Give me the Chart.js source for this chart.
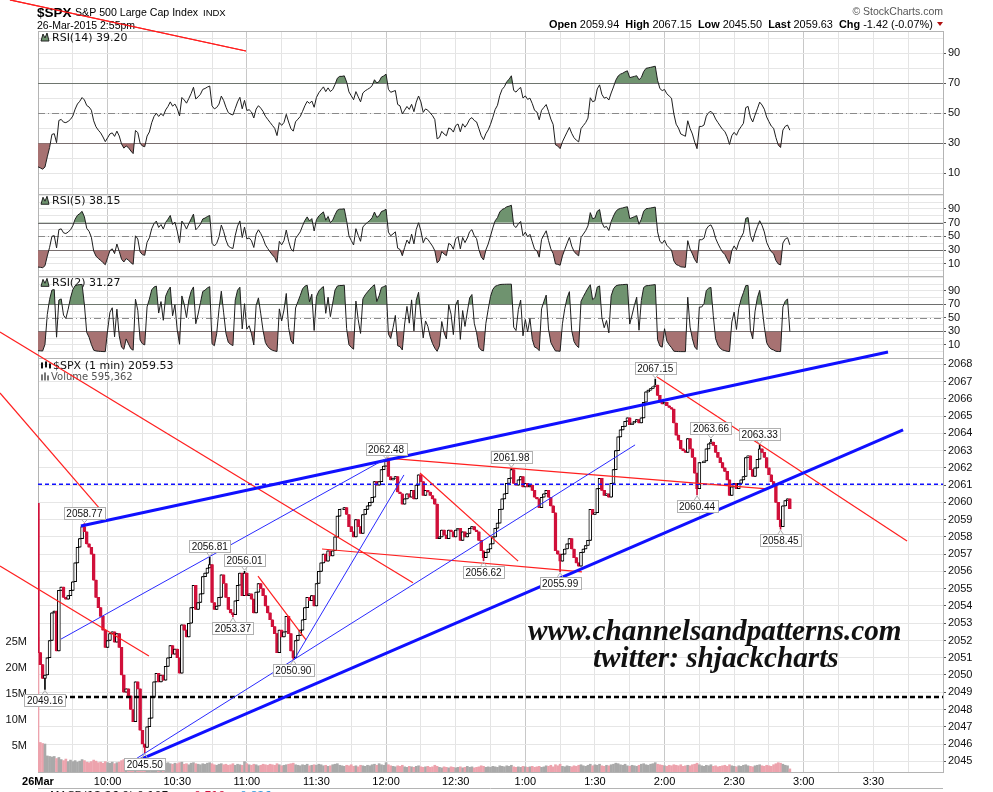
<!DOCTYPE html>
<html>
<head>
<meta charset="utf-8">
<title>$SPX 1 min</title>
<script src="https://cdn.jsdelivr.net/npm/chart.js@4.4.1/dist/chart.umd.min.js"></script>
<style>
html, body { margin: 0; padding: 0; background: #fff; }
#wrap { width: 993px; height: 792px; }
</style>
</head>
<body>
<div id="wrap"><canvas id="chart" width="993" height="792"></canvas></div>
<script>
// ---- data (x = minutes since 9:30) ----
const prevClose = 2061.05;
const firstOpen = 2059.94;

// 1-minute closes, 9:30 .. 2:54
const closes = [
  2051.3, 2050.6, 2049.8, 2050.0, 2051.0, 2052.0, 2053.6, 2053.7, 2051.4, 2054.9,
  2055.1, 2054.5, 2054.4, 2054.6, 2054.9, 2055.4, 2056.5, 2057.4, 2057.9, 2058.6,
  2058.3, 2057.6, 2057.4, 2057.0, 2055.5, 2054.5, 2053.9, 2053.4, 2052.6, 2051.6,
  2052.0, 2052.4, 2052.5, 2051.9, 2052.4, 2051.6, 2050.0, 2049.0, 2049.2, 2048.8,
  2048.0, 2047.3, 2049.6, 2049.2, 2046.8, 2046.0, 2045.8, 2047.0, 2047.5, 2048.7,
  2049.6, 2050.1, 2049.6, 2050.0, 2049.7, 2050.5, 2051.0, 2051.7, 2051.2, 2051.5,
  2051.0, 2050.1, 2052.9, 2052.6, 2052.2, 2053.0, 2053.9, 2055.2, 2053.8, 2054.2,
  2054.7, 2055.7, 2055.9, 2056.2, 2056.4, 2054.2, 2053.8, 2054.0, 2054.5, 2055.8,
  2055.3, 2054.5, 2053.8, 2053.6, 2053.5, 2054.3, 2055.2, 2055.9, 2054.6, 2055.9,
  2054.6, 2054.7, 2054.4, 2053.6, 2054.8, 2055.3, 2055.0, 2054.6, 2054.0, 2053.6,
  2053.2, 2052.8, 2052.4, 2051.3, 2052.6, 2052.2, 2052.5, 2053.4, 2052.4, 2051.4,
  2051.0, 2052.0, 2052.3, 2052.6, 2053.2, 2053.9, 2054.5, 2054.3, 2054.6, 2054.0,
  2055.3, 2056.0, 2056.5, 2057.0, 2056.6, 2057.2, 2056.9, 2057.2, 2058.0, 2059.2,
  2059.6, 2059.6, 2059.7, 2059.3, 2058.6, 2058.3, 2058.0, 2059.0, 2058.6, 2058.2,
  2059.3, 2059.6, 2059.8, 2060.0, 2060.3, 2061.2, 2061.0, 2061.2, 2061.9, 2062.1,
  2062.4, 2061.5, 2061.3, 2061.4, 2061.5, 2060.6, 2060.5, 2059.9, 2060.2, 2060.5,
  2060.3, 2060.7, 2060.2, 2061.0, 2061.6, 2061.2, 2060.4, 2060.7, 2060.6, 2060.4,
  2060.2, 2059.9, 2057.9, 2058.0, 2058.4, 2058.1, 2057.9, 2058.4, 2058.3, 2058.0,
  2058.4, 2058.5, 2057.8, 2058.3, 2058.0, 2058.2, 2058.5, 2058.6, 2058.4, 2058.3,
  2057.8, 2057.2, 2056.8, 2057.1, 2057.3, 2057.6, 2058.0, 2058.5, 2058.8, 2059.6,
  2060.2, 2060.5, 2061.1, 2061.4, 2061.9, 2061.1, 2061.0, 2061.3, 2061.5, 2060.9,
  2061.1, 2060.9, 2061.0, 2060.7, 2060.3, 2060.2, 2059.7, 2060.3, 2060.5, 2060.7,
  2060.3, 2059.8, 2059.4, 2057.2, 2057.0, 2056.6, 2057.0, 2057.3, 2057.6, 2057.9,
  2057.3, 2056.8, 2056.5, 2056.3, 2057.1, 2057.3, 2057.5, 2057.8, 2059.6, 2059.3,
  2059.4, 2060.8, 2061.4, 2060.7, 2060.4, 2060.5, 2060.3, 2061.1, 2061.9, 2063.0,
  2063.8, 2064.2, 2064.4, 2064.7, 2064.9, 2064.5, 2064.6, 2064.7, 2064.8, 2064.6,
  2064.9, 2065.8, 2066.4, 2066.5, 2066.6, 2066.7, 2066.8, 2066.2, 2065.8, 2065.7,
  2065.8, 2065.6, 2065.5, 2065.4, 2064.6, 2063.9, 2063.6, 2063.1, 2063.0, 2062.9,
  2063.7, 2063.1, 2062.6, 2061.7, 2060.8, 2062.3, 2062.3, 2062.4, 2063.1, 2063.4,
  2063.5, 2063.3, 2062.9, 2062.6, 2062.3, 2062.0, 2061.8, 2061.3, 2060.4, 2060.9,
  2061.1, 2060.8, 2061.1, 2061.3, 2061.5, 2062.6, 2062.7, 2061.9, 2061.5, 2062.0,
  2062.5, 2063.1, 2062.9, 2062.6, 2062.0, 2061.6, 2061.2, 2061.0, 2060.0, 2059.0,
  2058.6, 2059.8, 2060.1, 2060.2, 2059.63
];

// volume per minute, millions
const volumes = [
  26,
  5.7, 5.5, 5.4, 3.1, 3.0, 2.9, 3.0, 2.6, 2.8,
  2.4, 2.2, 2.5, 2.0, 2.3, 2.0, 2.2, 1.9, 2.1, 2.4,
  2.2, 1.9, 1.8, 2.0, 2.3, 2.1, 1.8, 1.9, 1.7, 2.0,
  1.8, 1.7, 1.9, 1.6, 1.8, 1.9, 2.2, 2.4, 1.9, 2.0,
  2.1, 2.3, 2.0, 1.8, 2.2, 2.5, 2.6, 2.1, 1.9, 2.0,
  1.8, 1.7, 1.6, 1.9, 1.5, 1.7, 1.8, 1.6, 1.5, 1.7,
  1.6, 1.8, 1.9, 1.5, 1.6, 1.4, 1.7, 1.8, 1.6, 1.5,
  1.4, 1.6, 1.5, 1.7, 1.8, 1.6, 1.4, 1.3, 1.5, 1.6,
  1.4, 1.5, 1.3, 1.4, 1.6, 1.3, 1.5, 1.4, 1.3, 2.0,
  1.6, 1.4, 1.3, 1.5, 1.4, 1.2, 1.3, 1.5, 1.4, 1.3,
  1.5, 1.4, 1.3, 1.6, 1.4, 1.2, 1.3, 1.4, 1.5, 1.6,
  1.7, 1.4, 1.3, 1.2, 1.4, 1.3, 1.5, 1.2, 1.3, 1.4,
  1.3, 1.5, 1.4, 1.2, 1.3, 1.1, 1.2, 1.4, 1.5, 1.6,
  1.3, 1.2, 1.1, 1.3, 1.2, 1.4, 1.1, 1.2, 1.0, 1.3,
  1.2, 1.1, 1.3, 1.2, 1.4, 1.5, 1.3, 1.6, 1.4, 1.3,
  1.8, 1.4, 1.2, 1.1, 1.0, 1.2, 1.1, 1.3, 1.0, 0.9,
  1.1, 1.0, 0.9, 1.1, 1.2, 1.0, 0.9, 1.0, 1.1, 0.9,
  1.0, 1.3, 1.1, 0.9, 0.8, 1.0, 0.9, 0.8, 1.0, 0.9,
  0.8, 0.9, 1.0, 0.8, 0.9, 1.1, 0.9, 1.0, 0.8, 0.9,
  1.0, 1.2, 1.1, 0.9, 1.0, 0.9, 1.1, 1.0, 0.9, 1.2,
  1.1, 1.0, 1.2, 1.1, 1.3, 1.0, 0.9, 1.0, 0.9, 1.1,
  1.0, 0.9, 1.0, 1.1, 0.9, 1.0, 1.1, 0.9, 1.0, 1.2,
  1.1, 1.3, 1.0, 1.4, 1.2, 1.5, 1.1, 1.0, 1.2, 1.1,
  1.0, 1.2, 1.1, 1.3, 1.4, 1.2, 1.1, 1.3, 1.5, 1.2,
  1.4, 1.3, 1.5, 1.2, 1.1, 1.3, 1.2, 1.4, 1.5, 1.7,
  1.6, 1.4, 1.3, 1.5, 1.2, 1.1, 1.3, 1.2, 1.1, 1.3,
  1.5, 1.6, 1.4, 1.3, 1.5, 1.6, 1.8, 1.5, 1.4, 1.3,
  1.2, 1.1, 1.3, 1.2, 1.4, 1.3, 1.2, 1.4, 1.1, 1.2,
  1.3, 1.2, 1.4, 1.5, 1.7, 1.4, 1.2, 1.1, 1.3, 1.2,
  1.4, 1.1, 1.2, 1.0, 1.1, 1.2, 1.3, 1.1, 1.4, 1.2,
  1.1, 1.0, 1.2, 1.1, 1.3, 1.4, 1.2, 1.1, 1.0, 1.2,
  1.3, 1.4, 1.2, 1.1, 1.3, 1.2, 1.1, 1.4, 1.6, 1.8,
  1.7, 1.5, 1.3, 1.2, 0.6
];

// labelled highs / lows: [minute, price, side]
const extremes = [
  [20, 2058.77, 'above'], [74, 2056.81, 'above'], [89, 2056.01, 'above'],
  [84, 2053.37, 'below'], [110, 2050.90, 'below'], [46, 2045.50, 'below'],
  [3, 2049.16, 'below'], [150, 2062.48, 'above'], [204, 2061.98, 'above'],
  [192, 2056.62, 'below'], [225, 2055.99, 'below'], [266, 2067.15, 'above'],
  [290, 2063.66, 'above'], [311, 2063.33, 'above'], [284, 2060.44, 'below'],
  [320, 2058.45, 'below']
];

// drawn trend lines: [kind, minute1, price1, minute2, price2]
const trendLines = [
  ['red', -12.1, 2089.11, 89.6, 2086.15],
  ['red', -16.4, 2069.87, 161.6, 2055.34],
  ['red', -16.4, 2066.34, 26.7, 2059.62],
  ['red', -16.4, 2056.31, 47.8, 2051.10],
  ['red', 94.8, 2055.73, 115.5, 2052.03],
  ['red', 164.6, 2061.70, 206.9, 2056.60],
  ['red', 122.4, 2057.30, 234.4, 2055.97],
  ['red', 150.4, 2062.57, 314.2, 2060.78],
  ['red', 266.8, 2067.26, 374.5, 2057.76],
  ['blueThick', 18.5, 2058.63, 366.3, 2068.71],
  ['blueThick', 42.7, 2045.02, 372.8, 2064.20],
  ['blueThin', 42.2, 2045.14, 257.3, 2063.33],
  ['blueThin', 9.9, 2052.08, 150.4, 2062.57],
  ['blueThin', 110.3, 2050.87, 157.7, 2061.59]
];
const levelLines = [['blueDash', 2061.05], ['blackDash', 2048.72]];

const timeLabels = ['26Mar', '10:00', '10:30', '11:00', '11:30', '12:00', '12:30',
                    '1:00', '1:30', '2:00', '2:30', '3:00', '3:30'];
const rsiLabels = [10, 30, 50, 70, 90];
const volLabels = [5, 10, 15, 20, 25];
const rsiSeed = 0.15; // average 1-min move carried over from the prior session

// ---- derived series ----
const opens = closes.map((c, i) => i === 0 ? firstOpen : closes[i - 1]);
const highs = closes.map((c, i) => Math.max(c, opens[i]));
const lows = closes.map((c, i) => Math.min(c, opens[i]));
extremes.forEach(([m, p, side]) => {
  if (side === 'above') highs[m] = Math.max(highs[m], p);
  else lows[m] = Math.min(lows[m], p);
});
const isUp = closes.map((c, i) => c >= opens[i]);

function wilderRsi(values, n) {
  let avgGain = rsiSeed, avgLoss = rsiSeed, last = prevClose;
  return values.map((c, i) => {
    const ch = c - last;
    last = c;
    avgGain = (avgGain * (n - 1) + Math.max(ch, 0)) / n;
    avgLoss = (avgLoss * (n - 1) + Math.max(-ch, 0)) / n;
    return { x: i, y: 100 - 100 / (1 + avgGain / avgLoss) };
  });
}

const RED = '#d0103a';
const GREEN_FILL = '#6f936f';
const RED_FILL = '#a77272';
const CLEAR = 'rgba(0,0,0,0)';
const FONT = 'Liberation Sans';

function rsiSets(n, axis) {
  const pts = wilderRsi(closes, n);
  return [
    { type: 'line', data: pts, yAxisID: axis, borderColor: '#1e1e1e', borderWidth: 1,
      pointRadius: 0, tension: 0, order: 2,
      fill: { target: { value: 70 }, above: GREEN_FILL, below: CLEAR } },
    { type: 'line', data: pts, yAxisID: axis, borderColor: CLEAR, borderWidth: 0,
      pointRadius: 0, tension: 0, order: 3,
      fill: { target: { value: 30 }, above: CLEAR, below: RED_FILL } }
  ];
}

const wickData = closes.map((c, i) => ({ x: i, y: [lows[i], highs[i]] }));
const bodyData = closes.map((c, i) => {
  const o = opens[i];
  return { x: i, y: Math.abs(c - o) < 0.03 ? [o - 0.02, o + 0.02] : [o, c] };
});
const volData = volumes.map((v, i) => ({ x: i, y: v * 1e6 }));

// ---- scales ----
function rsiAxis(weight, min, max) {
  return {
    type: 'linear', position: 'right', stack: 'panels', stackWeight: weight,
    min: min, max: max,
    afterFit: s => { s.width = 50; },
    ticks: {
      stepSize: 10, includeBounds: false, autoSkip: false, padding: 2,
      color: '#111', font: { family: FONT, size: 11 },
      callback: v => rsiLabels.includes(v) ? String(v) : ''
    },
    grid: {
      color: '#e6e6e6', tickLength: 3,
      tickColor: c => rsiLabels.includes(c.tick && c.tick.value) ? '#555' : CLEAR
    },
    border: { color: '#b4b4b4' }
  };
}

const panelTitles = [
  ['rsi14', 'RSI(14) 39.20'],
  ['rsi5', 'RSI(5) 38.15'],
  ['rsi2', 'RSI(2) 31.27']
];

function drawTag(ctx, x, y, text, side) {
  ctx.font = '10px ' + FONT;
  const w = Math.round(ctx.measureText(text).width) + 5, h = 12;
  const bx = Math.round(x - w / 2) + 0.5;
  const by = side === 'above' ? Math.round(y - 5 - h) + 0.5 : Math.round(y + 5) + 0.5;
  ctx.strokeStyle = '#b0b0b0';
  ctx.lineWidth = 1;
  ctx.beginPath();
  if (side === 'above') {
    ctx.moveTo(x - 3, by + h); ctx.lineTo(x, y - 1); ctx.lineTo(x + 3, by + h);
  } else {
    ctx.moveTo(x - 3, by); ctx.lineTo(x, y + 1); ctx.lineTo(x + 3, by);
  }
  ctx.stroke();
  ctx.fillStyle = '#fff';
  ctx.fillRect(bx, by, w, h);
  ctx.strokeRect(bx, by, w, h);
  ctx.fillStyle = '#111';
  ctx.textAlign = 'center';
  ctx.textBaseline = 'middle';
  ctx.fillText(text, x, by + h / 2 + 0.5);
}

function fitFont(ctx, text, style, family, width) {
  ctx.font = style + ' 24px ' + family;
  const size = 24 * width / ctx.measureText(text).width;
  return style + ' ' + size.toFixed(1) + 'px ' + family;
}

const lineStyles = {
  red: { color: '#ff1f1f', width: 1.2, dash: [] },
  blueThick: { color: '#1010ff', width: 3, dash: [] },
  blueThin: { color: '#2a2aff', width: 1, dash: [] },
  blueDash: { color: '#1010ff', width: 1.5, dash: [4, 3] },
  blackDash: { color: '#000', width: 2.5, dash: [5, 3] }
};

const decorPlugin = {
  id: 'decor',
  beforeDatasetsDraw(chart) {
    const ctx = chart.ctx, a = chart.chartArea;
    ctx.save();
    // RSI reference lines
    ['rsi14', 'rsi5', 'rsi2'].forEach(id => {
      const s = chart.scales[id];
      [30, 70].forEach(v => {
        const y = Math.round(s.getPixelForValue(v)) + 0.5;
        ctx.strokeStyle = '#6e6e6e'; ctx.lineWidth = 1; ctx.setLineDash([]);
        ctx.beginPath(); ctx.moveTo(a.left, y); ctx.lineTo(a.right, y); ctx.stroke();
      });
      const y5 = Math.round(s.getPixelForValue(50)) + 0.5;
      ctx.strokeStyle = '#8a8a8a'; ctx.setLineDash([7, 3, 1, 3]);
      ctx.beginPath(); ctx.moveTo(a.left, y5); ctx.lineTo(a.right, y5); ctx.stroke();
    });
    ctx.setLineDash([]);
    // panel separators
    ctx.strokeStyle = '#b4b4b4';
    ['rsi14', 'rsi5', 'rsi2', 'price'].forEach(id => {
      const y = Math.round(chart.scales[id].top) + 0.5;
      ctx.beginPath(); ctx.moveTo(a.left, y); ctx.lineTo(a.right, y); ctx.stroke();
    });
    // panel titles
    panelTitles.forEach(([id, text]) => {
      const top = chart.scales[id].top;
      ctx.fillStyle = GREEN_FILL; ctx.strokeStyle = '#222';
      ctx.beginPath();
      ctx.moveTo(41, top + 10); ctx.lineTo(43, top + 3); ctx.lineTo(45, top + 7);
      ctx.lineTo(47, top + 2); ctx.lineTo(49, top + 10); ctx.closePath();
      ctx.fill(); ctx.stroke();
      ctx.fillStyle = '#111';
      ctx.font = '11px DejaVu Sans';
      ctx.textAlign = 'left'; ctx.textBaseline = 'alphabetic';
      ctx.fillText(text, 52, top + 10);
    });
    const pt = chart.scales.price.top;
    ctx.fillStyle = '#111'; ctx.strokeStyle = '#111';
    ctx.fillRect(41, pt + 4, 2, 6); ctx.fillRect(45, pt + 3, 2, 6); ctx.fillRect(49, pt + 5, 2, 5);
    ctx.font = '11px DejaVu Sans';
    ctx.fillText('$SPX (1 min) 2059.53', 53, pt + 11);
    ctx.fillStyle = '#777';
    ctx.fillRect(41, pt + 16, 2, 6); ctx.fillRect(44, pt + 14, 2, 8); ctx.fillRect(47, pt + 17, 2, 5);
    ctx.font = '10px DejaVu Sans';
    ctx.fillStyle = '#555';
    ctx.fillText('Volume 595,362', 51, pt + 22);
    ctx.restore();
  },
  afterDatasetsDraw(chart) {
    const ctx = chart.ctx, a = chart.chartArea;
    const xs = chart.scales.x, ps = chart.scales.price;
    ctx.save();
    // watermark
    ctx.fillStyle = '#111';
    ctx.textAlign = 'left'; ctx.textBaseline = 'alphabetic';
    let t = 'www.channelsandpatterns.com';
    ctx.font = fitFont(ctx, t, 'italic bold', 'Liberation Serif', 374);
    ctx.fillText(t, 528, 640);
    t = 'twitter: shjackcharts';
    ctx.font = fitFont(ctx, t, 'italic bold', 'Liberation Serif', 246);
    ctx.fillText(t, 593, 667);
    // horizontal levels
    levelLines.forEach(([kind, p]) => {
      const st = lineStyles[kind];
      const y = ps.getPixelForValue(p);
      ctx.strokeStyle = st.color; ctx.lineWidth = st.width; ctx.setLineDash(st.dash);
      ctx.beginPath(); ctx.moveTo(a.left, y); ctx.lineTo(a.right, y); ctx.stroke();
    });
    // trend lines
    trendLines.forEach(([kind, m1, p1, m2, p2]) => {
      const st = lineStyles[kind];
      ctx.strokeStyle = st.color; ctx.lineWidth = st.width; ctx.setLineDash(st.dash);
      ctx.beginPath();
      ctx.moveTo(xs.getPixelForValue(m1), ps.getPixelForValue(p1));
      ctx.lineTo(xs.getPixelForValue(m2), ps.getPixelForValue(p2));
      ctx.stroke();
    });
    ctx.setLineDash([]);
    // price tags
    extremes.forEach(([m, p, side]) => {
      drawTag(ctx, xs.getPixelForValue(m), ps.getPixelForValue(p), p.toFixed(2), side);
    });
    ctx.restore();
  },
  afterDraw(chart) {
    const ctx = chart.ctx, a = chart.chartArea;
    ctx.save();
    ctx.textBaseline = 'alphabetic';
    ctx.textAlign = 'left';
    ctx.fillStyle = '#000';
    ctx.font = 'bold 13.5px ' + FONT;
    ctx.fillText('$SPX', 37, 17);
    ctx.font = fitFont(ctx, 'S&P 500 Large Cap Index', '', FONT, 123);
    ctx.fillText('S&P 500 Large Cap Index', 75, 16);
    ctx.font = '9.5px ' + FONT;
    ctx.fillText('INDX', 203, 16);
    ctx.font = fitFont(ctx, '26-Mar-2015 2:55pm', '', FONT, 98);
    ctx.fillText('26-Mar-2015 2:55pm', 37, 29);

    ctx.textAlign = 'right';
    ctx.fillStyle = '#555';
    ctx.font = '10.5px ' + FONT;
    ctx.fillText('\u00A9 StockCharts.com', 943, 15);

    // quote line, right aligned
    const parts = [
      ['bold', 'Open'], ['', ' 2059.94  '], ['bold', 'High'], ['', ' 2067.15  '],
      ['bold', 'Low'], ['', ' 2045.50  '], ['bold', 'Last'], ['', ' 2059.63  '],
      ['bold', 'Chg'], ['', ' -1.42 (-0.07%)']
    ];
    let total = 0;
    parts.forEach(([w, s]) => { ctx.font = (w ? 'bold ' : '') + '11px ' + FONT; total += ctx.measureText(s).width; });
    const qs = (11 * 384 / total).toFixed(2);
    let x = 933 - 384;
    ctx.textAlign = 'left';
    ctx.fillStyle = '#000';
    parts.forEach(([w, s]) => {
      ctx.font = (w ? 'bold ' : '') + qs + 'px ' + FONT;
      ctx.fillText(s, x, 28);
      x += ctx.measureText(s).width;
    });
    ctx.fillStyle = '#b01010';
    ctx.beginPath(); ctx.moveTo(937, 22); ctx.lineTo(943, 22); ctx.lineTo(940, 26); ctx.closePath(); ctx.fill();

    // clipped lower panel strip
    ctx.strokeStyle = '#b4b4b4'; ctx.lineWidth = 1;
    ctx.beginPath(); ctx.moveTo(a.left, 788.5); ctx.lineTo(a.right, 788.5); ctx.stroke();
    ctx.font = '11px DejaVu Sans';
    ctx.fillStyle = '#111';
    ctx.fillText('MACD(12,26,9) 0.107,', 50, 799);
    ctx.fillStyle = RED; ctx.fillText('-0.719,', 190, 799);
    ctx.fillStyle = '#3399dd'; ctx.fillText('0.826', 240, 799);

    // top red line crosses the header
    const xs = chart.scales.x, ps = chart.scales.price;
    const [k, m1, p1, m2, p2] = trendLines[0];
    ctx.strokeStyle = lineStyles[k].color; ctx.lineWidth = lineStyles[k].width;
    ctx.beginPath();
    ctx.moveTo(xs.getPixelForValue(m1), ps.getPixelForValue(p1));
    ctx.lineTo(xs.getPixelForValue(m2), ps.getPixelForValue(p2));
    ctx.stroke();
    ctx.restore();
  }
};

new Chart(document.getElementById('chart'), {
  type: 'line',
  data: {
    datasets: [
      { type: 'bar', data: bodyData, yAxisID: 'price', grouped: false, barThickness: 3,
        borderWidth: 1, borderSkipped: false,
        backgroundColor: isUp.map(u => u ? '#fff' : RED),
        borderColor: isUp.map(u => u ? '#000' : RED), order: 0 },
      { type: 'bar', data: wickData, yAxisID: 'price', grouped: false, barThickness: 1,
        borderWidth: 0, backgroundColor: isUp.map(u => u ? '#000' : RED), order: 1 },
      ...rsiSets(14, 'rsi14'),
      ...rsiSets(5, 'rsi5'),
      ...rsiSets(2, 'rsi2'),
      { type: 'bar', data: volData, yAxisID: 'vol', grouped: false, barThickness: 2,
        borderWidth: 0, backgroundColor: isUp.map(u => u ? '#a9a9a9' : '#eda3ad'), order: 9 }
    ]
  },
  options: {
    responsive: false,
    animation: false,
    devicePixelRatio: 1,
    events: [],
    layout: { padding: { top: 31, left: 0, right: 0, bottom: 0 } },
    plugins: { legend: { display: false }, tooltip: { enabled: false } },
    scales: {
      x: {
        type: 'linear', min: 0, max: 390, offset: false,
        afterFit: s => { s.height = 20; },
        ticks: {
          stepSize: 15, autoSkip: false, maxRotation: 0, padding: 3, color: '#000',
          font: c => ({ family: FONT, size: 11, weight: c.tick && c.tick.value === 0 ? 'bold' : 'normal' }),
          callback: v => (v % 30 === 0 && v / 30 < timeLabels.length) ? timeLabels[v / 30] : ''
        },
        grid: {
          offset: false, drawTicks: false,
          color: c => (c.tick && (c.tick.value - 30) % 60 === 0) ? '#c8c8c8' : '#e4e4e4'
        },
        border: { color: '#b4b4b4' }
      },
      vol: {
        type: 'linear', position: 'left', min: 0, max: 143e6,
        afterFit: s => { s.width = 38; },
        afterBuildTicks: s => { s.ticks = volLabels.map(v => ({ value: v * 1e6 })); },
        ticks: { padding: 3, color: '#111', font: { family: FONT, size: 11 },
                 callback: v => (v / 1e6) + 'M' },
        grid: { display: false },
        border: { color: '#b4b4b4' }
      },
      rsi14: rsiAxis(163, -4, 104.9),
      rsi5: rsiAxis(82, -8, 111.4),
      rsi2: rsiAxis(82, -10, 111.6),
      price: {
        type: 'linear', position: 'right', stack: 'panels', stackWeight: 413,
        min: 2044.38, max: 2068.34,
        afterFit: s => { s.width = 50; },
        ticks: { stepSize: 1, includeBounds: false, autoSkip: false, padding: 2,
                 color: '#111', font: { family: FONT, size: 11 }, callback: v => String(v) },
        grid: { color: '#e6e6e6', tickLength: 3, tickColor: '#555' },
        border: { color: '#b4b4b4' }
      }
    }
  },
  plugins: [decorPlugin]
});
</script>
</body>
</html>
